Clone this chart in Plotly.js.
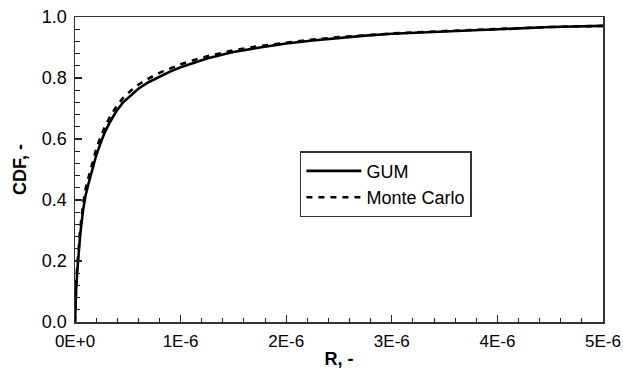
<!DOCTYPE html>
<html>
<head>
<meta charset="utf-8">
<script src="https://cdn.plot.ly/plotly-3.0.1.min.js"></script>
<style>
html,body{margin:0;padding:0;background:#fff;}
#chart{width:623px;height:373px;}
</style>
</head>
<body>
<div id="chart"></div>
<script>
// R values (x 1E-6) and CDF values
const rGum = [0, 0.005, 0.01, 0.02, 0.035, 0.05, 0.078, 0.1, 0.125, 0.15, 0.17, 0.2, 0.235, 0.28, 0.33, 0.39, 0.455, 0.53, 0.6, 0.7, 0.8, 0.9, 1.0, 1.1, 1.25, 1.4, 1.5, 1.75, 2.0, 2.25, 2.5, 2.75, 3.0, 3.5, 4.0, 4.5, 5.0];
const cdfGum = [0, 0.065, 0.10, 0.16, 0.23, 0.29, 0.37, 0.415, 0.45, 0.485, 0.51, 0.545, 0.58, 0.62, 0.655, 0.69, 0.72, 0.745, 0.765, 0.787, 0.805, 0.821, 0.835, 0.847, 0.864, 0.877, 0.885, 0.900, 0.913, 0.923, 0.932, 0.939, 0.945, 0.953, 0.961, 0.967, 0.971];
const rMC = [0, 0.005, 0.01, 0.02, 0.035, 0.05, 0.078, 0.1, 0.125, 0.15, 0.17, 0.2, 0.235, 0.28, 0.33, 0.39, 0.455, 0.53, 0.6, 0.7, 0.8, 0.9, 1.0, 1.1, 1.25, 1.4, 1.5, 1.75, 2.0, 2.25, 2.5, 2.75, 3.0, 3.5, 4.0, 4.5, 5.0];
const cdfMC = [0, 0.07, 0.11, 0.175, 0.245, 0.305, 0.39, 0.435, 0.47, 0.505, 0.53, 0.565, 0.60, 0.638, 0.672, 0.705, 0.735, 0.759, 0.778, 0.799, 0.817, 0.832, 0.845, 0.856, 0.871, 0.883, 0.891, 0.905, 0.916, 0.926, 0.934, 0.940, 0.946, 0.954, 0.961, 0.967, 0.971];
const xTickVals = [0, 1e-6, 2e-6, 3e-6, 4e-6, 5e-6];
const xTickText = ['0E+0', '1E-6', '2E-6', '3E-6', '4E-6', '5E-6'];
const seriesNames = ['GUM', 'Monte Carlo'];

const scale = v => v.map(x => x * 1e-6);

const traces = [
  {x: scale(rGum), y: cdfGum, name: seriesNames[0], mode: 'lines',
   line: {color: '#000', width: 2.6}},
  {x: scale(rMC), y: cdfMC, name: seriesNames[1], mode: 'lines',
   line: {color: '#000', width: 2.6, dash: '6px,6px'}}
];

const font = 'Liberation Sans, Arial, sans-serif';
const layout = {
  width: 623, height: 373,
  margin: {l: 75, r: 20, t: 17, b: 51},
  paper_bgcolor: '#fff', plot_bgcolor: '#fff',
  font: {family: font, size: 18, color: '#000'},
  showlegend: true,
  legend: {x: 0.426, y: 0.56, xanchor: 'left', yanchor: 'top',
    bgcolor: '#fff', bordercolor: '#333', borderwidth: 1.5, itemwidth: 55,
    font: {family: font, size: 18, color: '#000'}},
  xaxis: {
    range: [0, 5.00001e-6], tickmode: 'array', tickvals: xTickVals, ticktext: xTickText,
    ticks: 'inside', ticklen: 7, tickwidth: 1.2, tickcolor: '#222',
    minor: {dtick: 0.2e-6, ticks: 'inside', ticklen: 4.5, tickwidth: 1, tickcolor: '#222'},
    showline: true, linecolor: '#333', linewidth: 1.5, mirror: true,
    showgrid: false, zeroline: false, ticklabelstandoff: 3, ticklabeloverflow: 'allow',
    tickfont: {family: font, size: 17, color: '#000'},
    title: {text: 'R, -', font: {family: font, size: 18, color: '#000', weight: 'bold'}, standoff: 2}
  },
  yaxis: {
    range: [0, 1], dtick: 0.2, tickformat: '.1f',
    ticks: 'inside', ticklen: 7, tickwidth: 1.2, tickcolor: '#222',
    minor: {dtick: 0.04, ticks: 'inside', ticklen: 5, tickwidth: 1, tickcolor: '#222'},
    showline: true, linecolor: '#333', linewidth: 1.5, mirror: true,
    showgrid: false, zeroline: false, ticklabelstandoff: 3,
    tickfont: {family: font, size: 18, color: '#000'},
    title: {text: 'CDF, -', font: {family: font, size: 18, color: '#000', weight: 'bold'}, standoff: 10}
  }
};

Plotly.newPlot('chart', traces, layout, {displayModeBar: false, staticPlot: true});
</script>
</body>
</html>
